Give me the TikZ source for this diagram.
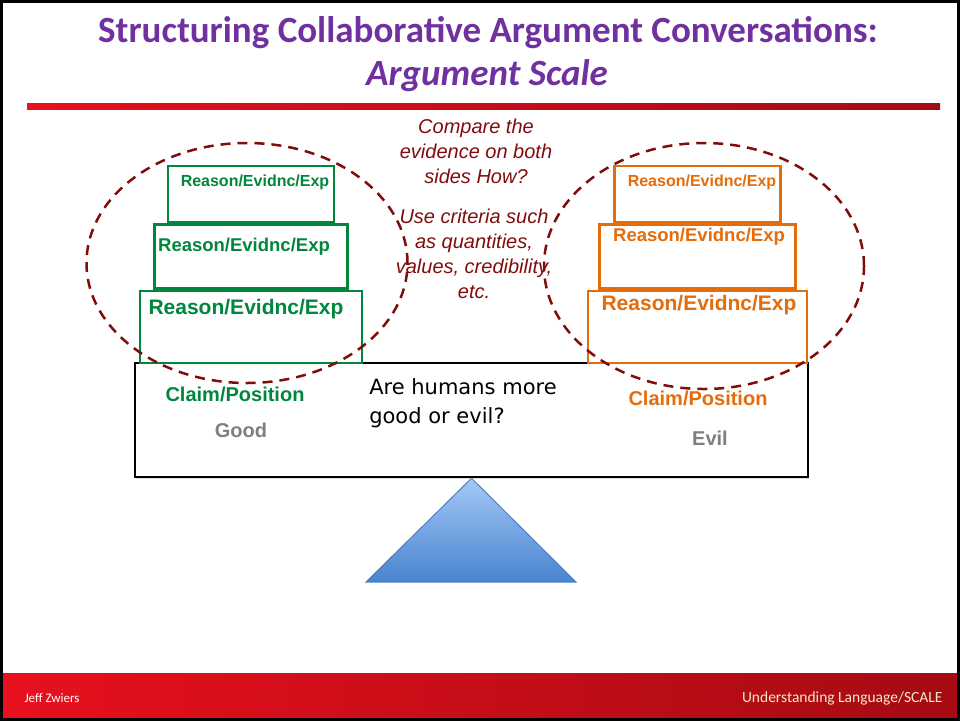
\documentclass[tikz,border=0pt]{standalone}
\usepackage{fontspec}
\setmainfont{Liberation Sans}
\newfontfamily\titlefont{Carlito}
\newfontfamily\handfont{DejaVu Sans}
\usepackage{tikz}
\usetikzlibrary{positioning,shapes.geometric,shadows}
\definecolor{titlepurple}{RGB}{112,48,160}
\definecolor{goodgreen}{RGB}{0,134,61}
\definecolor{evilorange}{RGB}{228,108,10}
\definecolor{darkred}{RGB}{128,12,12}
\definecolor{claimgray}{RGB}{127,127,127}
\definecolor{barred}{RGB}{232,16,30}
\definecolor{bardark}{RGB}{165,11,18}
\definecolor{footcream}{RGB}{244,232,205}
\definecolor{pivtop}{RGB}{165,200,248}
\definecolor{pivbot}{RGB}{72,132,206}
\definecolor{pivline}{RGB}{79,129,189}
\tikzset{
  gbox/.style={
    rectangle, draw=goodgreen, line width=2.5pt, fill=white, inner sep=0pt
  },
  obox/.style={
    rectangle, draw=evilorange, line width=2.5pt, fill=white, inner sep=0pt
  },
  rtext/.style={font=\bfseries\fontsize{#1}{#1}\selectfont, inner sep=0pt},
  pile/.style={
    ellipse, draw=darkred, line width=2.5pt, dash pattern=on 10pt off 7pt,
    inner sep=0pt
  },
  beam/.style={
    rectangle, draw=black, line width=2.5pt, fill=white, inner sep=0pt,
    drop shadow={shadow xshift=1pt, shadow yshift=-2pt, opacity=0.25}
  },
  note/.style={
    text=darkred, font=\itshape\fontsize{20}{25}\selectfont, align=center,
    inner sep=0pt
  },
  claim/.style={font=\bfseries\fontsize{20}{20}\selectfont, inner sep=0pt}
}
\begin{document}
\begin{tikzpicture}[x=1pt, y=-1pt]
\useasboundingbox (0,0) rectangle (960,721);
% title and rule
\node[text=titlepurple, font=\titlefont\bfseries\fontsize{37}{37}\selectfont] (title) at (488,33) {Structuring Collaborative Argument Conversations:};
\node[text=titlepurple, font=\titlefont\bfseries\itshape\fontsize{37}{37}\selectfont] (subtitle) at (487,76) {Argument Scale};
\shade[left color=barred, right color=bardark] (27,103) rectangle (940,109);

% the beam
\node[beam, minimum width=673pt, minimum height=114pt] (beam) at (471.5,420) {};
\node[claim, text=goodgreen] (lclaim) at (235,394) {Claim/Position};
\node[claim, text=claimgray, below=36pt of lclaim.center, anchor=center, xshift=6pt] (good) {Good};
\node[claim, text=evilorange] (rclaim) at (698,398) {Claim/Position};
\node[claim, text=claimgray, below=40pt of rclaim.center, anchor=center, xshift=12pt] (evil) {Evil};
\node[font=\handfont\fontsize{21}{29}\selectfont, align=left, inner sep=0pt] (question) at (463,403) {Are humans more\\good or evil?};

% good side
\node[gbox, minimum width=222pt, minimum height=72pt] (lbot) at (251,327) {};
\node[gbox, minimum width=193pt, minimum height=64pt, above=0pt of lbot] (lmid) {};
\node[gbox, minimum width=166pt, minimum height=56pt, above=0pt of lmid] (ltop) {};
\node[rtext=21, text=goodgreen] (lbot-t) at (246,309) {Reason/Evidnc/Exp};
\node[rtext=18.5, text=goodgreen] (lmid-t) at (244,247) {Reason/Evidnc/Exp};
\node[rtext=16, text=goodgreen] (ltop-t) at (255,182) {Reason/Evidnc/Exp};

% evil side
\node[obox, minimum width=219pt, minimum height=72pt] (rbot) at (697.5,327) {};
\node[obox, minimum width=196pt, minimum height=64pt, above=0pt of rbot] (rmid) {};
\node[obox, minimum width=166pt, minimum height=56pt, above=0pt of rmid] (rtop) {};
\node[rtext=21, text=evilorange] (rbot-t) at (699,305) {Reason/Evidnc/Exp};
\node[rtext=18.5, text=evilorange] (rmid-t) at (699,237) {Reason/Evidnc/Exp};
\node[rtext=16, text=evilorange] (rtop-t) at (702,182) {Reason/Evidnc/Exp};

% middle notes
\node[note] (compare) at (476,151) {Compare the\\evidence on both\\sides How?};
\node[note] (criteria) at (474,253.5) {Use criteria such\\as quantities,\\values, credibility,\\etc.};

% the piles
\node[pile, minimum width=321pt, minimum height=240pt] (lpile) at (247,263) {};
\node[pile, minimum width=320pt, minimum height=246pt] (rpile) at (704,266) {};

% pivot
\shade[top color=pivtop, bottom color=pivbot, draw=pivline, line width=1pt] (beam.south) -- (576,582) -- (366,582) -- cycle;

% footer
\shade[left color=barred, right color=bardark] (2,673) rectangle (958,719);
\node[anchor=west, text=white, font=\titlefont\fontsize{13}{13}\selectfont] (author) at (21,698) {Jeff Zwiers};
\node[anchor=east, text=footcream, font=\titlefont\fontsize{15.5}{15.5}\selectfont] (project) at (946,698) {Understanding Language/SCALE};
\draw[line width=3pt] (1.5,1.5) rectangle (958.5,719.5);
\end{tikzpicture}
\end{document}
